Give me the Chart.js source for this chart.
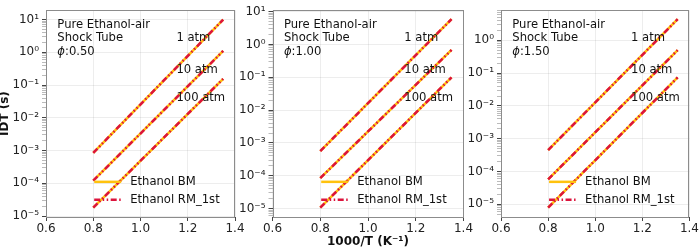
<!DOCTYPE html>
<html><head><meta charset="utf-8">
<script src="https://cdn.jsdelivr.net/npm/chart.js@4.4.0/dist/chart.umd.min.js"></script>
<style>
html,body{margin:0;padding:0;background:#fff;}
#wrap{position:relative;width:700px;height:248px;overflow:hidden;background:#fff;}
canvas{position:absolute;left:0;top:0;}
</style></head><body>
<div id="wrap">
<canvas id="c1" width="700" height="248"></canvas>
<canvas id="c2" width="700" height="248"></canvas>
<canvas id="c3" width="700" height="248"></canvas>
</div>
<script>
// ---- data ----
const xTicks = [0.6, 0.8, 1.0, 1.2, 1.4];
const invT = [0.8, 1.35];                 // 1000/T (1/K)
const phiLabels = ['0.50', '1.00', '1.50'];
const pressureLabels = ['1 atm', '10 atm', '100 atm'];
const seriesNames = ['Ethanol BM', 'Ethanol RM_1st'];
// IDT (s) at invT
const phi050_1atm   = [8.5e-4, 10.0];
const phi050_10atm  = [1.2e-4, 1.1];
const phi050_100atm = [1.8e-5, 0.155];
const phi100_1atm   = [5.6e-4, 5.9];
const phi100_10atm  = [8.5e-5, 0.68];
const phi100_100atm = [1.07e-5, 0.10];
const phi150_1atm   = [4.5e-4, 4.4];
const phi150_10atm  = [5.8e-5, 0.50];
const phi150_100atm = [8.0e-6, 0.074];

const panelData = [
  [phi050_1atm, phi050_10atm, phi050_100atm],
  [phi100_1atm, phi100_10atm, phi100_100atm],
  [phi150_1atm, phi150_10atm, phi150_100atm]
];

// ---- layout ----
const panels = [
  {id:'c1', left:46,    right:235,   top:3, bottom:217, yw:46, lo:-5.03,  hi:1.286},
  {id:'c2', left:272.5, right:463.5, top:4, bottom:217, yw:40, lo:-5.257, hi:1.044},
  {id:'c3', left:501,   right:692,   top:4, bottom:217, yw:40, lo:-5.385, hi:0.917}
];
const FONT = '"DejaVu Sans", sans-serif';
const BM_COLOR = '#FFC20E';
const RM_COLOR = '#DC143C';
const RM_DASH = [6, 2.5, 1.5, 2.5, 1.5, 2.5];
Chart.defaults.font.family = FONT;

const SUP = {'-':'\u207B','0':'\u2070','1':'\u00B9','2':'\u00B2','3':'\u00B3','4':'\u2074','5':'\u2075','6':'\u2076','7':'\u2077','8':'\u2078','9':'\u2079'};
function sup(n){ return String(n).split('').map(c=>SUP[c]).join(''); }
function isMajor(v){ const l=Math.log10(v); return Math.abs(l-Math.round(l))<1e-6; }

function makeTextPlugin(pi){
  return {
    id:'txt'+pi,
    afterDraw(chart){
      const ctx = chart.ctx, ca = chart.chartArea;
      const w = ca.right-ca.left, h = ca.bottom-ca.top;
      ctx.save();
      // frame
      ctx.strokeStyle = '#8c8c8c'; ctx.lineWidth = 1;
      ctx.strokeRect(Math.round(ca.left)+0.5, Math.round(ca.top)+0.5, Math.round(w)-1, Math.round(h));
      ctx.fillStyle = '#111';
      ctx.textBaseline = 'middle'; ctx.textAlign = 'left';
      ctx.font = '11.6px ' + FONT;
      const tx = ca.left + 0.06*w;
      ctx.fillText('Pure Ethanol-air', tx, ca.top + 0.07*h);
      ctx.fillText('Shock Tube', tx, ca.top + 0.136*h);
      ctx.font = 'italic 11.6px ' + FONT;
      ctx.fillText('\u03D5', tx, ca.top + 0.202*h);
      const pw = ctx.measureText('\u03D5').width;
      ctx.font = '11.6px ' + FONT;
      ctx.fillText(':' + phiLabels[pi], tx + pw, ca.top + 0.202*h);
      const px = ca.left + 0.69*w;
      const pf = [0.136, 0.289, 0.423];
      pressureLabels.forEach((t,i)=>ctx.fillText(t, px, ca.top + pf[i]*h));
      // legend
      const lx = ca.left + 0.255*w;
      const rows = [ca.top + 0.83*h, ca.top + 0.917*h];
      ctx.lineWidth = 2.5;
      ctx.strokeStyle = BM_COLOR; ctx.setLineDash([]);
      ctx.beginPath(); ctx.moveTo(lx, rows[0]); ctx.lineTo(lx+27, rows[0]); ctx.stroke();
      ctx.strokeStyle = RM_COLOR; ctx.setLineDash(RM_DASH);
      ctx.beginPath(); ctx.moveTo(lx, rows[1]); ctx.lineTo(lx+27, rows[1]); ctx.stroke();
      ctx.setLineDash([]);
      ctx.fillStyle = '#111';
      ctx.fillText(seriesNames[0], lx+36, rows[0]);
      ctx.fillText(seriesNames[1], lx+36, rows[1]);
      ctx.restore();
    }
  };
}

panels.forEach((p, pi) => {
  const datasets = [];
  panelData[pi].forEach((arr, k) => {
    datasets.push({label: seriesNames[0] + ' ' + pressureLabels[k],
      data: invT.map((x,i)=>({x:x, y:arr[i]})),
      borderColor: BM_COLOR, borderWidth: 2.5, pointRadius: 0, order: 2});
  });
  panelData[pi].forEach((arr, k) => {
    datasets.push({label: seriesNames[1] + ' ' + pressureLabels[k],
      data: invT.map((x,i)=>({x:x, y:arr[i]})),
      borderColor: RM_COLOR, borderWidth: 2.5, borderDash: RM_DASH, pointRadius: 0, order: 1});
  });
  new Chart(document.getElementById(p.id), {
    type: 'line',
    data: {datasets},
    plugins: [makeTextPlugin(pi)],
    options: {
      responsive: false, animation: false, devicePixelRatio: 1,
      layout: {padding: {left: p.left - p.yw, right: 700 - p.right, top: p.top, bottom: 0}},
      plugins: {legend: {display: false}, tooltip: {enabled: false}},
      scales: {
        x: {
          type: 'linear', min: 0.6, max: 1.4,
          afterBuildTicks: s => { s.ticks = xTicks.map(v=>({value:v})); },
          afterFit: s => { s.height = 248 - p.bottom; },
          border: {display: false},
          grid: {color: 'rgba(0,0,0,0.07)', tickColor: '#444', tickLength: 4, drawTicks: true},
          ticks: {autoSkip: false, maxRotation: 0, padding: 1, color: '#222', font: {size: 12},
                  callback: v => Number(v).toFixed(1)},
          title: {display: pi === 1, text: '1000/T (K\u207B\u00B9)', color: '#111',
                  font: {size: 12, weight: 'bold', lineHeight: 1}, padding: {top: 0, bottom: 0}}
        },
        y: {
          type: 'logarithmic', min: Math.pow(10, p.lo), max: Math.pow(10, p.hi),
          afterBuildTicks: s => {
            const t = [];
            for (let e = Math.floor(p.lo); e <= Math.ceil(p.hi); e++) {
              for (let m = 1; m <= 9; m++) {
                const v = m * Math.pow(10, e);
                if (Math.log10(v) >= p.lo && Math.log10(v) <= p.hi) t.push({value: v, major: m === 1});
              }
            }
            s.ticks = t;
          },
          afterFit: s => { s.width = p.yw; },
          border: {display: false},
          grid: {
            color: c => (c.tick && isMajor(c.tick.value)) ? 'rgba(0,0,0,0.07)' : 'rgba(0,0,0,0)',
            tickColor: c => (c.tick && isMajor(c.tick.value)) ? '#444' : '#bbb',
            tickLength: 4
          },
          ticks: {autoSkip: false, padding: 3, color: '#222', font: {size: 12},
                  callback: v => isMajor(v) ? '10' + sup(Math.round(Math.log10(v))) : ''},
          title: {display: pi === 0, text: 'IDT (s)', color: '#111',
                  font: {size: 12, weight: 'bold', lineHeight: 1}, padding: {top: -1, bottom: 0}}
        }
      }
    }
  });
});
</script>
</body></html>
